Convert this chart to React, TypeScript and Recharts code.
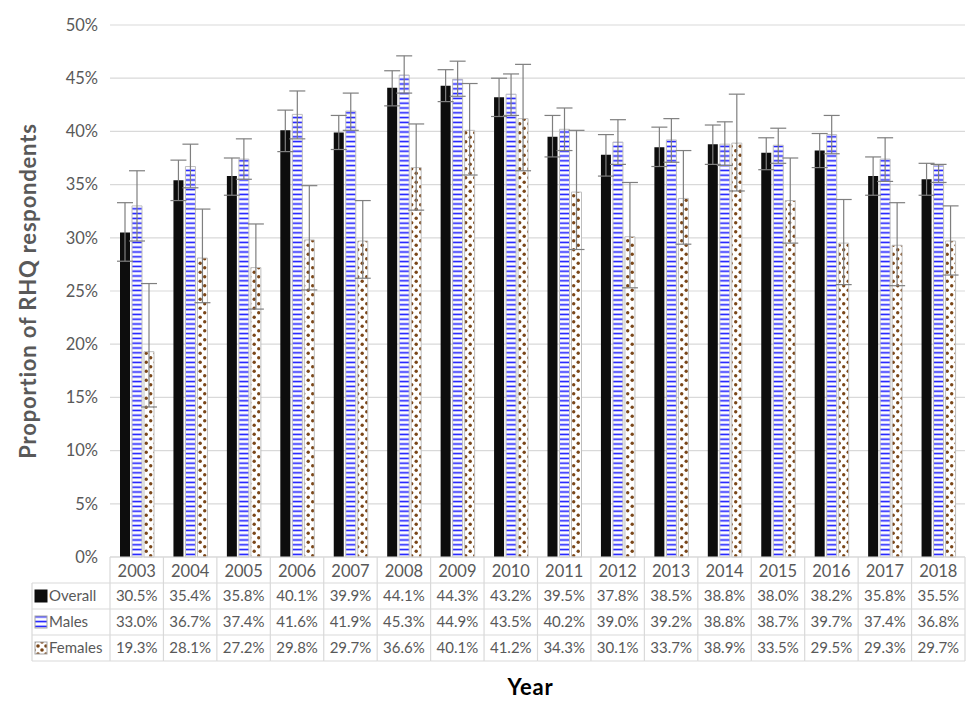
import React from 'react';
import { BarChart, Bar, XAxis, YAxis, CartesianGrid, ErrorBar, Label } from 'recharts';

const years = ['2003', '2004', '2005', '2006', '2007', '2008', '2009', '2010', '2011', '2012', '2013', '2014', '2015', '2016', '2017', '2018'];
const overall = [30.5, 35.4, 35.8, 40.1, 39.9, 44.1, 44.3, 43.2, 39.5, 37.8, 38.5, 38.8, 38.0, 38.2, 35.8, 35.5];
const males = [33.0, 36.7, 37.4, 41.6, 41.9, 45.3, 44.9, 43.5, 40.2, 39.0, 39.2, 38.8, 38.7, 39.7, 37.4, 36.8];
const females = [19.3, 28.1, 27.2, 29.8, 29.7, 36.6, 40.1, 41.2, 34.3, 30.1, 33.7, 38.9, 33.5, 29.5, 29.3, 29.7];
// [lower, upper] error amounts (percentage points)
const overallErr = [[2.7, 2.8], [1.9, 1.9], [1.8, 1.7], [2.0, 1.9], [1.6, 1.6], [1.7, 1.6], [1.5, 1.5], [1.8, 1.8], [1.9, 2.0], [2.0, 1.9], [1.8, 1.9], [1.9, 1.8], [1.6, 1.4], [1.6, 1.6], [1.8, 1.8], [1.5, 1.5]];
const malesErr = [[3.3, 3.3], [2.0, 2.1], [1.9, 1.9], [2.3, 2.2], [1.8, 1.7], [1.7, 1.8], [1.6, 1.7], [2.0, 1.9], [2.0, 2.0], [2.1, 2.1], [2.1, 2.0], [2.0, 2.1], [1.7, 1.6], [1.8, 1.8], [2.1, 2.0], [1.6, 0.1]];
const femalesErr = [[5.2, 6.4], [4.2, 4.6], [3.9, 4.1], [4.7, 5.1], [3.5, 3.8], [4.0, 4.1], [4.2, 4.4], [4.9, 5.1], [5.4, 5.8], [4.8, 5.1], [4.3, 4.5], [4.5, 4.6], [4.0, 4.0], [3.9, 4.1], [3.8, 4.0], [3.2, 3.3]];
const yTicks = [0, 5, 10, 15, 20, 25, 30, 35, 40, 45, 50];
const seriesNames = ['Overall', 'Males', 'Females'];

const data = years.map((y, i) => ({
  year: y,
  overall: overall[i],
  males: males[i],
  females: females[i],
  overallErr: overallErr[i],
  malesErr: malesErr[i],
  femalesErr: femalesErr[i],
}));

const FONT = 'Lato, "Noto Sans", sans-serif';
const GRID = '#d9d9d9';
const TXT = '#595959';
const ROW_H = 26;
const HEAD_H = 26;
const LABEL_COL_W = 78;

const fills = ['#0d0d0d', 'url(#malesPat)', 'url(#femalesKeyPat)'];
const seriesVals = [overall, males, females];

const TableTick = (props: any) => {
  const { x, y, index, width } = props;
  const n = years.length;
  const bw = width / n;
  const left = x - bw / 2;
  const right = x + bw / 2;
  const rowsTop = y + HEAD_H;
  const bottom = rowsTop + ROW_H * 3;
  const els: any[] = [];
  els.push(<line key="vl" x1={left} y1={y} x2={left} y2={bottom} stroke={GRID} strokeWidth={1.2} />);
  if (index === n - 1) {
    els.push(<line key="vr" x1={right} y1={y} x2={right} y2={bottom} stroke={GRID} strokeWidth={1.2} />);
  }
  for (let r = 0; r <= 3; r++) {
    const yy = rowsTop + r * ROW_H;
    els.push(<line key={'h' + r} x1={left} y1={yy} x2={right} y2={yy} stroke={GRID} strokeWidth={1.2} />);
  }
  els.push(
    <text key="yr" x={x} y={y + HEAD_H / 2 + 1} dy="0.35em" textAnchor="middle" fontSize={16.5} fill={TXT} fontFamily={FONT}>
      {years[index]}
    </text>
  );
  seriesVals.forEach((vals, r) => {
    els.push(
      <text key={'v' + r} x={x} y={rowsTop + r * ROW_H + ROW_H / 2} dy="0.35em" textAnchor="middle" fontSize={15} fill={TXT} fontFamily={FONT}>
        {vals[index].toFixed(1) + '%'}
      </text>
    );
  });
  if (index === 0) {
    const lx = left - LABEL_COL_W;
    els.push(<line key="lvl" x1={lx} y1={rowsTop} x2={lx} y2={bottom} stroke={GRID} strokeWidth={1.2} />);
    for (let r = 0; r <= 3; r++) {
      const yy = rowsTop + r * ROW_H;
      els.push(<line key={'lh' + r} x1={lx} y1={yy} x2={left} y2={yy} stroke={GRID} strokeWidth={1.2} />);
    }
    seriesNames.forEach((name, r) => {
      const cy = rowsTop + r * ROW_H + ROW_H / 2;
      els.push(
        <rect key={'k' + r} x={lx + 3} y={cy - 6} width={12} height={12} fill={fills[r]} stroke={r === 0 ? '#0d0d0d' : '#a6a6a6'} strokeWidth={1} />
      );
      els.push(
        <text key={'n' + r} x={lx + 17} y={cy} dy="0.35em" textAnchor="start" fontSize={15} fill={TXT} fontFamily={FONT}>
          {name}
        </text>
      );
    });
  }
  return <g>{els}</g>;
};

const YLabel = (props: any) => {
  const vb = props.viewBox || {};
  const cx = 28;
  const cy = vb.y + vb.height / 2;
  return (
    <text x={cx} y={cy} transform={`rotate(-90, ${cx}, ${cy})`} textAnchor="middle" dy="0.35em" fontSize={22} letterSpacing={0.8} fontWeight={700} fill={TXT} fontFamily={FONT}>
      Proportion of RHQ respondents
    </text>
  );
};

const XLabel = (props: any) => {
  const vb = props.viewBox || {};
  const cx = vb.x + vb.width / 2 - 7;
  return (
    <text x={cx} y={687} textAnchor="middle" dy="0.35em" fontSize={22} letterSpacing={0.8} fontWeight={700} fill="#000000" fontFamily={FONT}>
      Year
    </text>
  );
};

export default function App() {
  return (
    <div style={{ position: 'absolute', left: 0, top: 0, width: 980, height: 716, background: '#ffffff' }}>
      <BarChart
        width={980}
        height={716}
        data={data}
        margin={{ top: 25, right: 15, bottom: 0, left: 0 }}
        barGap={2}
        barSize={10}
      >
        <defs>
          <pattern id="malesPat" patternUnits="userSpaceOnUse" width={10} height={4.8}>
            <rect x={0} y={0} width={10} height={4.8} fill="#ffffff" />
            <rect x={0} y={1.6} width={10} height={1.6} fill="#1a1aff" />
          </pattern>
          <pattern id="femalesPat" patternUnits="userSpaceOnUse" width={9} height={9}>
            <rect x={0} y={0} width={9} height={9} fill="#ffffff" />
            <circle cx={2.2} cy={2.2} r={1.7} fill="#7a4618" />
            <circle cx={6.7} cy={6.7} r={1.7} fill="#7a4618" />
          </pattern>
          <pattern id="femalesKeyPat" patternUnits="userSpaceOnUse" x={0} y={0} width={8} height={8}>
            <rect x={0} y={0} width={8} height={8} fill="#ffffff" />
            <circle cx={2} cy={2} r={1.8} fill="#7a4618" />
            <circle cx={6} cy={6} r={1.8} fill="#7a4618" />
          </pattern>
        </defs>
        <CartesianGrid vertical={false} stroke={GRID} strokeWidth={1.2} />
        <XAxis
          dataKey="year"
          interval={0}
          height={159}
          tickLine={false}
          tickSize={0}
          tickMargin={0}
          axisLine={{ stroke: GRID }}
          tick={(p: any) => <TableTick {...p} />}
        >
          <Label content={(p: any) => <XLabel {...p} />} />
        </XAxis>
        <YAxis
          domain={[0, 50]}
          ticks={yTicks}
          width={110}
          tickLine={false}
          axisLine={false}
          tickMargin={6}
          tickFormatter={(v: number) => `${v}%`}
          tick={{ fontSize: 16.5, fill: TXT, fontFamily: FONT }}
        >
          <Label content={(p: any) => <YLabel {...p} />} />
        </YAxis>
        <Bar dataKey="overall" fill="#0d0d0d" isAnimationActive={false}>
          <ErrorBar dataKey="overallErr" direction="y" width={8} stroke="#7f7f7f" strokeWidth={1.2} />
        </Bar>
        <Bar dataKey="males" fill="url(#malesPat)" stroke="#bfbfbf" strokeWidth={1} isAnimationActive={false}>
          <ErrorBar dataKey="malesErr" direction="y" width={8} stroke="#7f7f7f" strokeWidth={1.2} />
        </Bar>
        <Bar dataKey="females" fill="url(#femalesPat)" stroke="#bfbfbf" strokeWidth={1} isAnimationActive={false}>
          <ErrorBar dataKey="femalesErr" direction="y" width={8} stroke="#7f7f7f" strokeWidth={1.2} />
        </Bar>
      </BarChart>
    </div>
  );
}
